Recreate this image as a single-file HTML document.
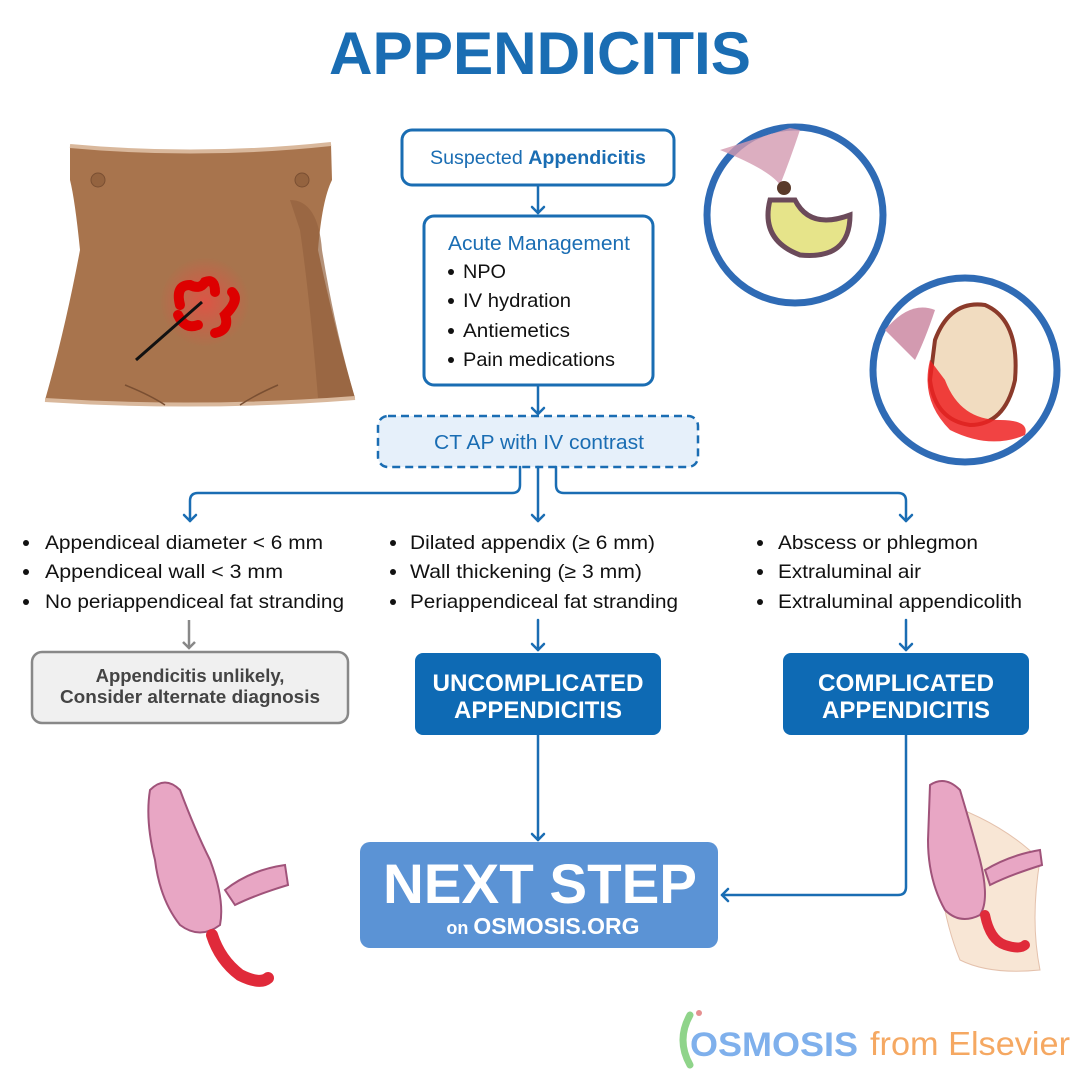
<!DOCTYPE html>
<html><head><meta charset="utf-8"><style>
html,body{margin:0;padding:0;background:#fff}
svg{display:block}
text{font-family:"Liberation Sans",sans-serif}
</style></head><body>
<svg width="1080" height="1080" viewBox="0 0 1080 1080" xmlns="http://www.w3.org/2000/svg">
<defs>
<radialGradient id="glow"><stop offset="0" stop-color="#ff4040" stop-opacity=".6"/><stop offset="1" stop-color="#ff4040" stop-opacity="0"/></radialGradient>
</defs>
<text x="540" y="74" text-anchor="middle" font-size="60" font-weight="bold" fill="#1a6db3" textLength="422" lengthAdjust="spacingAndGlyphs">APPENDICITIS</text>

<!-- Abdomen -->
<path d="M70,146 Q200,158 331,144 L332,180 Q322,200 318,250 Q335,330 355,398 Q200,410 45,400 Q65,330 80,250 Q75,200 70,180 Z" fill="#a8744d"/>
<path d="M290,200 Q318,200 322,250 Q335,330 355,398 L318,398 Q310,300 300,230 Z" fill="#94633f" opacity=".7"/>
<path d="M70,146 Q200,158 331,144" stroke="#d9b89c" stroke-width="4" fill="none"/>
<path d="M45,400 Q200,410 355,398" stroke="#d9b89c" stroke-width="4" fill="none"/>
<circle cx="98" cy="180" r="7" fill="#94633f" stroke="#7a4f32"/>
<circle cx="302" cy="180" r="7" fill="#94633f" stroke="#7a4f32"/>
<path d="M125,385 Q150,395 165,405 M278,385 Q255,395 240,405" stroke="#7a4f32" stroke-width="1.5" fill="none"/>
<circle cx="205" cy="302" r="45" fill="url(#glow)"/>
<path d="M180,305 Q175,285 190,285 Q200,290 205,282 Q215,278 215,292 M232,292 Q240,300 225,315 Q230,330 215,333 M178,315 Q185,330 198,325" stroke="#d00" stroke-width="10" fill="none" stroke-linecap="round"/>
<line x1="136" y1="360" x2="202" y2="302" stroke="#111" stroke-width="3"/>

<!-- Circle illustrations -->
<circle cx="795" cy="215" r="88" fill="#fff" stroke="#2f6bb5" stroke-width="7"/>
<path d="M770,200 Q760,240 800,255 Q850,260 850,215 Q810,230 795,200 Z" fill="#e6e48a" stroke="#6b4a5a" stroke-width="5"/>
<path d="M720,150 Q770,170 780,185 Q790,160 800,130 L790,128 Z" fill="#d39ab0" opacity=".8"/>
<circle cx="784" cy="188" r="7" fill="#5a3a2a"/>
<circle cx="965" cy="370" r="92" fill="#fff" stroke="#2f6bb5" stroke-width="7"/>
<path d="M935,340 Q950,300 985,305 Q1020,320 1015,380 Q1005,425 970,425 Q935,420 930,380 Z" fill="#f1dcc0" stroke="#8b3a2a" stroke-width="4"/>
<path d="M930,360 Q920,400 950,430 Q990,450 1025,435 Q1030,420 1000,420 Q960,420 945,380 Z" fill="#e22" opacity=".85"/>
<path d="M885,330 Q910,300 935,310 Q925,340 915,360 Z" fill="#d39ab0"/>

<!-- Flow -->
<rect x="402" y="130" width="272" height="55" rx="10" fill="#fff" stroke="#1a6db3" stroke-width="3"/>
<text x="538" y="164" text-anchor="middle" font-size="19" fill="#1a6db3" textLength="216" lengthAdjust="spacingAndGlyphs">Suspected <tspan font-weight="bold">Appendicitis</tspan></text>
<rect x="424" y="216" width="229" height="169" rx="10" fill="#fff" stroke="#1a6db3" stroke-width="3"/>
<text x="539" y="250" text-anchor="middle" font-size="20.5" fill="#1a6db3" textLength="182" lengthAdjust="spacingAndGlyphs">Acute Management</text>
<g font-size="19.5" fill="#111" lengthAdjust="spacingAndGlyphs">
<circle cx="451" cy="272" r="3" fill="#111"/><text x="463" y="278" textLength="43" lengthAdjust="spacingAndGlyphs">NPO</text>
<circle cx="451" cy="301" r="3" fill="#111"/><text x="463" y="307" textLength="108" lengthAdjust="spacingAndGlyphs">IV hydration</text>
<circle cx="451" cy="331" r="3" fill="#111"/><text x="463" y="337" textLength="107" lengthAdjust="spacingAndGlyphs">Antiemetics</text>
<circle cx="451" cy="360" r="3" fill="#111"/><text x="463" y="366" textLength="152" lengthAdjust="spacingAndGlyphs">Pain medications</text>
</g>
<rect x="378" y="416" width="320" height="51" rx="10" fill="#e6f0fa" stroke="#1a6db3" stroke-width="2.5" stroke-dasharray="8,5"/>
<text x="539" y="449" text-anchor="middle" font-size="20.5" fill="#1a6db3" textLength="210" lengthAdjust="spacingAndGlyphs">CT AP with IV contrast</text>

<g stroke="#1a6db3" stroke-width="2.5" fill="none" stroke-linejoin="round" stroke-linecap="round">
<line x1="538" y1="185" x2="538" y2="213"/><path d="M532,207 L538,213 L544,207"/>
<line x1="538" y1="385" x2="538" y2="414"/><path d="M532,408 L538,414 L544,408"/>
<path d="M520,467 V485 Q520,493 512,493 H198 Q190,493 190,501 V521"/><path d="M184,515 L190,521 L196,515"/>
<line x1="538" y1="467" x2="538" y2="521"/><path d="M532,515 L538,521 L544,515"/>
<path d="M556,467 V485 Q556,493 564,493 H898 Q906,493 906,501 V521"/><path d="M900,515 L906,521 L912,515"/>
<line x1="538" y1="620" x2="538" y2="650"/><path d="M532,644 L538,650 L544,644"/>
<line x1="906" y1="620" x2="906" y2="650"/><path d="M900,644 L906,650 L912,644"/>
<line x1="538" y1="735" x2="538" y2="840"/><path d="M532,834 L538,840 L544,834"/>
<path d="M906,735 V887 Q906,895 898,895 H722"/><path d="M728,889 L722,895 L728,901"/>
</g>

<g font-size="19.5" fill="#111">
<circle cx="26" cy="543" r="3"/><text x="45" y="549" textLength="278" lengthAdjust="spacingAndGlyphs">Appendiceal diameter &lt; 6 mm</text>
<circle cx="26" cy="572" r="3"/><text x="45" y="578" textLength="238" lengthAdjust="spacingAndGlyphs">Appendiceal wall &lt; 3 mm</text>
<circle cx="26" cy="602" r="3"/><text x="45" y="608" textLength="299" lengthAdjust="spacingAndGlyphs">No periappendiceal fat stranding</text>
<circle cx="393" cy="543" r="3"/><text x="410" y="549" textLength="245" lengthAdjust="spacingAndGlyphs">Dilated appendix (≥ 6 mm)</text>
<circle cx="393" cy="572" r="3"/><text x="410" y="578" textLength="232" lengthAdjust="spacingAndGlyphs">Wall thickening (≥ 3 mm)</text>
<circle cx="393" cy="602" r="3"/><text x="410" y="608" textLength="268" lengthAdjust="spacingAndGlyphs">Periappendiceal fat stranding</text>
<circle cx="760" cy="543" r="3"/><text x="778" y="549" textLength="200" lengthAdjust="spacingAndGlyphs">Abscess or phlegmon</text>
<circle cx="760" cy="572" r="3"/><text x="778" y="578" textLength="143" lengthAdjust="spacingAndGlyphs">Extraluminal air</text>
<circle cx="760" cy="602" r="3"/><text x="778" y="608" textLength="244" lengthAdjust="spacingAndGlyphs">Extraluminal appendicolith</text>
</g>

<line x1="189" y1="620" x2="189" y2="648" stroke="#888" stroke-width="2.5"/>
<path d="M183,642 L189,648 L195,642" stroke="#888" stroke-width="2.5" fill="none"/>
<rect x="32" y="652" width="316" height="71" rx="10" fill="#f0f0f0" stroke="#888" stroke-width="2.5"/>
<text x="190" y="682" text-anchor="middle" font-size="18.5" font-weight="bold" fill="#444">Appendicitis unlikely,</text>
<text x="190" y="703" text-anchor="middle" font-size="18.5" font-weight="bold" fill="#444" textLength="260" lengthAdjust="spacingAndGlyphs">Consider alternate diagnosis</text>

<rect x="415" y="653" width="246" height="82" rx="8" fill="#0e6ab4"/>
<text x="538" y="691" text-anchor="middle" font-size="24" font-weight="bold" fill="#fff" textLength="211" lengthAdjust="spacingAndGlyphs">UNCOMPLICATED</text>
<text x="538" y="718" text-anchor="middle" font-size="24" font-weight="bold" fill="#fff" textLength="168" lengthAdjust="spacingAndGlyphs">APPENDICITIS</text>

<rect x="783" y="653" width="246" height="82" rx="8" fill="#0e6ab4"/>
<text x="906" y="691" text-anchor="middle" font-size="24" font-weight="bold" fill="#fff" textLength="176" lengthAdjust="spacingAndGlyphs">COMPLICATED</text>
<text x="906" y="718" text-anchor="middle" font-size="24" font-weight="bold" fill="#fff" textLength="168" lengthAdjust="spacingAndGlyphs">APPENDICITIS</text>

<rect x="360" y="842" width="358" height="106" rx="10" fill="#5b93d5"/>
<text x="540" y="903" text-anchor="middle" font-size="56" font-weight="bold" fill="#fff" textLength="314" lengthAdjust="spacingAndGlyphs">NEXT STEP</text>
<text x="543" y="934" text-anchor="middle" font-size="23" font-weight="bold" fill="#fff"><tspan font-size="18">on </tspan>OSMOSIS.ORG</text>

<!-- Colon left -->
<g>
<path d="M150,790 Q165,775 180,790 Q195,830 210,860 Q225,900 220,925 Q200,940 180,925 Q160,900 155,860 Q145,820 150,790 Z" fill="#e8a6c4" stroke="#a0537a" stroke-width="2"/>
<path d="M225,890 Q250,870 285,865 L288,885 Q255,895 235,905 Z" fill="#e8a6c4" stroke="#a0537a" stroke-width="2"/>
<path d="M212,935 Q220,960 240,975 Q260,985 268,978" stroke="#e02a3a" stroke-width="12" fill="none" stroke-linecap="round"/>
</g>
<!-- Colon right -->
<g>
<path d="M935,800 Q1000,820 1040,860 Q1030,920 1040,970 Q990,975 960,960 Q935,900 935,800 Z" fill="#f6dcc4" opacity=".7" stroke="#d9a88a"/>
<path d="M930,785 Q945,775 960,790 Q972,830 980,860 Q990,900 980,915 Q960,925 945,910 Q928,880 928,840 Z" fill="#e8a6c4" stroke="#a0537a" stroke-width="2"/>
<path d="M985,870 Q1010,855 1040,850 L1042,865 Q1010,875 990,885 Z" fill="#e8a6c4" stroke="#a0537a" stroke-width="2"/>
<path d="M985,915 Q990,940 1005,945 Q1020,950 1025,945" stroke="#e02a3a" stroke-width="10" fill="none" stroke-linecap="round"/>
</g>

<!-- Logo -->
<path d="M690,1015 Q676,1040 690,1065" stroke="#8fd48a" stroke-width="7" fill="none" stroke-linecap="round"/>
<circle cx="699" cy="1013" r="3" fill="#e59090"/>
<text x="690" y="1056" font-size="34" font-weight="bold" fill="#7fb0ec" textLength="168" lengthAdjust="spacingAndGlyphs">OSMOSIS</text>
<text x="870" y="1055" font-size="33" fill="#f5a862" textLength="200" lengthAdjust="spacingAndGlyphs">from Elsevier</text>
</svg>
</body></html>
